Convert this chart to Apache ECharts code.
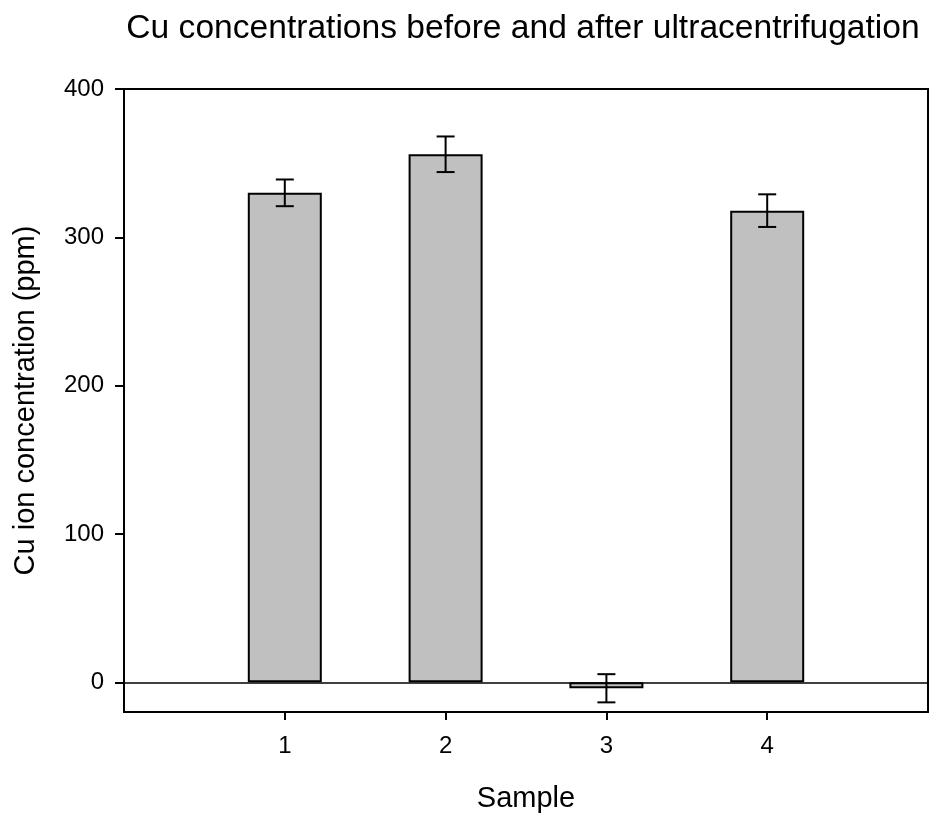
<!DOCTYPE html>
<html>
<head>
<meta charset="utf-8">
<script src="https://cdn.jsdelivr.net/npm/echarts@6/dist/echarts.min.js"></script>
<style>html,body{margin:0;padding:0;background:#fff;}#c{width:933px;height:814px;}</style>
</head>
<body>
<div id="c"></div>
<script>
var samples = [1, 2, 3, 4];
var values = [330, 356, -4, 318];
var errors = [9, 12, 9.5, 11];
var yTicks = [0, 100, 200, 300, 400];

var FONT = 'Liberation Sans, Arial, Helvetica, sans-serif';
var chart = echarts.init(document.getElementById('c'), null, {renderer: 'canvas'});

var barData = samples.map(function (s, i) { return [s, values[i]]; });
var errData = samples.map(function (s, i) { return [s, values[i] - errors[i], values[i] + errors[i]]; });

chart.setOption({
  animation: false,
  backgroundColor: '#fff',
  title: {
    text: 'Cu concentrations before and after ultracentrifugation',
    left: 518, top: 7, textAlign: 'center',
    textStyle: {fontFamily: FONT, fontSize: 33.6, fontWeight: 'normal', color: '#000'}
  },
  grid: {left: 124, top: 89, right: 5, bottom: 102, outerBoundsMode: 'none', containLabel: false,
         show: true, borderColor: '#000', borderWidth: 2, backgroundColor: 'transparent'},
  xAxis: {
    type: 'value', min: 0, max: 5,
    name: 'Sample', nameLocation: 'middle', nameGap: 72,
    nameTextStyle: {fontFamily: FONT, fontSize: 29, color: '#000'},
    axisLine: {show: true, onZero: false, lineStyle: {color: '#000', width: 2}},
    axisTick: {show: true, length: 8, lineStyle: {color: '#000', width: 2}, customValues: samples},
    axisLabel: {fontFamily: FONT, fontSize: 24, color: '#000', margin: 22, customValues: samples},
    splitLine: {show: false}
  },
  yAxis: {
    type: 'value', min: -20, max: 400,
    name: 'Cu ion concentration (ppm)', nameLocation: 'middle', nameGap: 84,
    nameTextStyle: {fontFamily: FONT, fontSize: 29, color: '#000'},
    axisLine: {show: true, onZero: false, lineStyle: {color: '#000', width: 2}},
    axisTick: {show: true, length: 9, lineStyle: {color: '#000', width: 2}, customValues: yTicks},
    axisLabel: {fontFamily: FONT, fontSize: 24, color: '#000', margin: 20, customValues: yTicks},
    splitLine: {show: false}
  },
  series: [
    {
      type: 'bar',
      data: barData,
      barWidth: 74,
      itemStyle: {color: '#c0c0c0', borderColor: '#000', borderWidth: 2},
      markLine: {
        silent: true, symbol: 'none', label: {show: false},
        lineStyle: {color: '#000', width: 1.5, type: 'solid'},
        data: [{yAxis: 0}]
      }
    },
    {
      type: 'custom',
      data: errData,
      z: 5,
      renderItem: function (params, api) {
        var x = api.value(0);
        var lo = api.coord([x, api.value(1)]);
        var hi = api.coord([x, api.value(2)]);
        var hw = 9;
        var st = {stroke: '#000', lineWidth: 2};
        return {
          type: 'group',
          children: [
            {type: 'line', shape: {x1: lo[0], y1: lo[1], x2: hi[0], y2: hi[1]}, style: st},
            {type: 'line', shape: {x1: lo[0] - hw, y1: lo[1], x2: lo[0] + hw, y2: lo[1]}, style: st},
            {type: 'line', shape: {x1: hi[0] - hw, y1: hi[1], x2: hi[0] + hw, y2: hi[1]}, style: st}
          ]
        };
      }
    }
  ]
});
</script>
</body>
</html>
